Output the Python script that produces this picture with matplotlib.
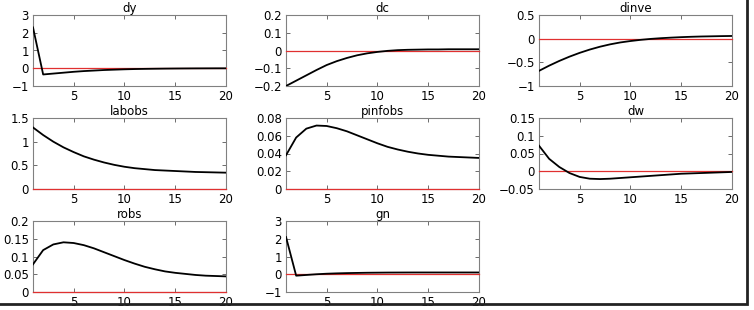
import matplotlib
matplotlib.use("Agg")
import matplotlib.pyplot as plt
from matplotlib.patches import Rectangle

plt.rcParams['font.family'] = ['DejaVu Sans']

periods = list(range(1, 21))

titles = ["dy", "dc", "dinve", "labobs", "pinfobs", "dw", "robs", "gn"]

dy = [2.3, -0.35, -0.30, -0.25, -0.20, -0.16, -0.13, -0.10, -0.08, -0.06,
      -0.045, -0.035, -0.027, -0.02, -0.015, -0.011, -0.008, -0.006, -0.004, -0.003]
dc = [-0.200, -0.170, -0.140, -0.110, -0.082, -0.060, -0.042, -0.027, -0.016, -0.008,
      -0.002, 0.002, 0.004, 0.005, 0.006, 0.006, 0.007, 0.007, 0.007, 0.007]
dinve = [-0.68, -0.57, -0.47, -0.38, -0.30, -0.23, -0.17, -0.12, -0.08, -0.05,
         -0.025, -0.005, 0.01, 0.022, 0.032, 0.04, 0.046, 0.05, 0.054, 0.057]
labobs = [1.30, 1.14, 1.00, 0.88, 0.78, 0.69, 0.62, 0.56, 0.51, 0.47,
          0.44, 0.42, 0.40, 0.39, 0.38, 0.37, 0.36, 0.355, 0.35, 0.345]
pinfobs = [0.038, 0.058, 0.068, 0.0715, 0.071, 0.0685, 0.065, 0.0605, 0.056, 0.0515,
           0.0475, 0.0445, 0.042, 0.040, 0.0385, 0.0375, 0.0365, 0.036, 0.0355, 0.035]
dw = [0.072, 0.035, 0.012, -0.005, -0.016, -0.021, -0.022, -0.021, -0.019, -0.017,
      -0.015, -0.013, -0.011, -0.009, -0.007, -0.006, -0.005, -0.004, -0.003, -0.002]
robs = [0.078, 0.118, 0.134, 0.140, 0.138, 0.132, 0.123, 0.112, 0.101, 0.090,
        0.080, 0.071, 0.064, 0.058, 0.054, 0.051, 0.048, 0.046, 0.045, 0.044]
gn = [2.1, -0.08, -0.04, 0.0, 0.03, 0.05, 0.065, 0.075, 0.085, 0.09,
      0.095, 0.097, 0.099, 0.1, 0.1, 0.1, 0.1, 0.1, 0.1, 0.1]

series = [dy, dc, dinve, labobs, pinfobs, dw, robs, gn]

ylims = [(-1, 3), (-0.2, 0.2), (-1, 0.5), (0, 1.5), (0, 0.08), (-0.05, 0.15), (0, 0.2), (-1, 3)]
yticks = [[-1, 0, 1, 2, 3],
          [-0.2, -0.1, 0, 0.1, 0.2],
          [-1, -0.5, 0, 0.5],
          [0, 0.5, 1, 1.5],
          [0, 0.02, 0.04, 0.06, 0.08],
          [-0.05, 0, 0.05, 0.1, 0.15],
          [0, 0.05, 0.1, 0.15, 0.2],
          [-1, 0, 1, 2, 3]]

W, H = 754, 310
fig = plt.figure(figsize=(W / 100, H / 100), dpi=100)

col_left = [33, 286, 539]
row_top = [15, 118, 221]
ax_w, ax_h = 193, 71

for i, (name, vals) in enumerate(zip(titles, series)):
    r, c = divmod(i, 3)
    ax = fig.add_axes([col_left[c] / W, 1 - (row_top[r] + ax_h) / H, ax_w / W, ax_h / H])
    ax.plot(periods, [0] * len(periods), color='#e03030', lw=0.9, zorder=3, clip_on=False)
    ax.plot(periods, vals, color='black', lw=1.3, zorder=4)
    ax.set_xlim(1, 20)
    ax.set_ylim(*ylims[i])
    ax.set_xticks([5, 10, 15, 20])
    ax.set_yticks(yticks[i])
    ax.set_yticklabels([('%g' % v).replace('-', '\u2212') for v in yticks[i]])
    ax.tick_params(direction='in', length=3, width=0.6, top=True, right=True,
                   labelsize=8.5, pad=3, color='#555555')
    for s in ax.spines.values():
        s.set_color('#808080')
        s.set_linewidth(0.8)
    ax.set_title(name, fontsize=8.5, pad=2)

# outer frame
fig.add_artist(Rectangle((-0.02, 1 - 304 / H), 747 / W + 0.02, 304 / H + 0.02,
                         transform=fig.transFigure, fill=False,
                         edgecolor='#222222', lw=2))

fig.savefig("out.png", dpi=100)
